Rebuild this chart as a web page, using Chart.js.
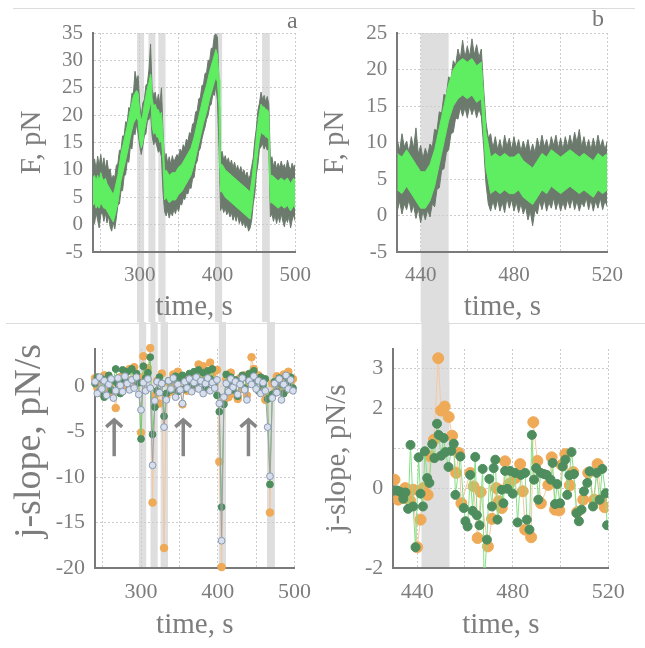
<!DOCTYPE html>
<html>
<head>
<meta charset="utf-8">
<script src="https://cdn.jsdelivr.net/npm/chart.js@4.4.1/dist/chart.umd.min.js"></script>
<style>
  body { margin: 0; background: #fff; width: 645px; height: 648px; overflow: hidden; position: relative; font-family: "Liberation Serif", serif; }
  canvas { position: absolute; }
  .rule { position: absolute; height: 1px; background: #dcdcdc; }
  .tag { position: absolute; color: #777; font-size: 24px; line-height: 24px; }
  .ytitle { position: absolute; width: 240px; height: 40px; line-height: 40px; text-align: center; color: #7d7d7d; font-size: 38px; transform: rotate(-90deg); white-space: nowrap; }
</style>
</head>
<body>
<div class="rule" style="left:13px;top:8px;width:622px"></div>
<div class="rule" style="left:6px;top:323px;width:639px"></div>
<canvas id="cA" width="322" height="322" style="left:0;top:0"></canvas>
<canvas id="cB" width="327" height="322" style="left:318px;top:0"></canvas>
<canvas id="cC" width="322" height="326" style="left:0;top:322px"></canvas>
<canvas id="cD" width="327" height="326" style="left:318px;top:322px"></canvas>
<div class="tag" style="left:287px;top:8px">a</div>
<div class="tag" style="left:592px;top:6px">b</div>
<div class="ytitle" style="left:-93px;top:421px">j-slope, pN/s</div>
<script>
// ==============================
// DATA - panel a (force, 240-500 s)
// raw trace envelope every 2 s, filtered band coarser
// ==============================
const tA = [240,242,244,246,248,250,252,254,256,258,260,262,264,266,268,270,272,274,276,278,280,282,284,286,288,290,292,294,296,298,300,302,304,306,308,310,312,314,316,318,320,322,324,326,328,330,332,334,336,338,340,342,344,346,348,350,352,354,356,358,360,362,364,366,368,370,372,374,376,378,380,382,384,386,388,390,392,394,396,398,400,402,404,406,408,410,412,414,416,418,420,422,424,426,428,430,432,434,436,438,440,442,444,446,448,450,452,454,456,458,460,462,464,466,468,470,472,474,476,478,480,482,484,486,488,490,492,494,496,498,500];
const rawHiA = [10.5,12,10,12.5,10.8,12.8,10.6,12.2,10.2,11.8,9.8,10.2,8.2,9,8.6,10.8,11.2,13.6,13.6,16.2,16.2,18.8,18.6,21.4,21.2,24,24,28,26.4,27.2,22,19.6,22.2,22.8,25.4,25.8,28.4,33,24.6,23.6,24.2,22.2,23.8,22,25,17,11.6,13,11.2,12.4,11,12.6,11.4,12.2,12.8,12.4,13.8,13.2,14.6,14,15.6,15.2,16.8,16.6,18.4,18.6,20.6,20.8,23,23.2,25.4,25.6,27.6,27.8,30,30,32.2,32.2,34.6,34.8,34.2,26,12.6,13.4,11.8,12.6,11.4,12.2,10.8,11.8,10.4,11.4,10,10.8,9.6,10.6,9.4,10,8.8,9.6,8.4,9,10.6,12.2,15.4,17.6,20.8,22.2,24.2,22.8,23.6,22.4,23.4,22,11.8,12.4,10.6,11.6,10.2,11.2,10.4,11.6,10.4,11,10,11.8,10.6,10,11.2,10.4,11];
const rawLoA = [1.8,0.2,2.2,0.8,-0.6,1.8,2.3,0.6,2.1,0.3,1.6,-0.4,-1.2,0.4,-0.8,1.2,3.6,3.8,6.2,6.2,8.8,9.2,11.6,11.4,14.2,13.8,16.8,16.4,18.4,16.6,14.4,12.8,14.4,16.2,16.6,19,19.2,20.4,16.2,14.6,15.4,14.4,13.2,13.6,12.4,6,2.4,1.6,2.6,1.2,2.4,1.6,2.8,2,3.2,2.4,3.8,3.6,4.8,4.6,5.8,5.6,6.8,6.6,8.4,8.6,11,11.6,13.4,14,15.6,16.8,17.8,19.2,20,21.6,22,23.8,23.6,25.4,22.6,14,2.6,3.4,2.2,3,1.8,2.6,1.4,2.2,0.8,1.8,0.6,1.8,0.2,1,-0.2,0.6,-0.6,0.2,-1.2,-0.6,0.8,3.8,5.6,9.2,11,13.8,14.2,14.8,13.8,14.6,13.6,14.2,1.4,2,0.6,1.8,0.2,1.6,0.4,2,0.6,-0.4,1.2,0.4,1.6,-0.6,0.8,1.8,0.6];
const tAf = [240,242,244,246,248,250,252,254,256,258,260,262,264,266,268,272,276,280,284,288,292,294,296,298,300,302,304,306,308,310,312,314,315,316,318,320,322,324,326,328,330,332,334,338,342,346,350,354,358,362,366,370,374,378,382,386,390,394,396,398,400,402,403,404,406,410,414,418,422,426,430,434,438,442,444,446,448,450,452,454,456,458,460,462,464,466,467,468,470,474,478,482,486,490,494,498,500];
const filtHiA = [8.5,9,8,9,8,9.5,8.5,8,8.5,7.5,7,6.5,6,5.5,6.5,9,13,15.5,18,21,23.5,24,24.5,24,20.5,19,20,22,23.5,25,26,27.5,26.5,23,21.5,22,21,21,20,20.5,16.5,9.5,10,9,9.5,9.5,10.5,11,12,13,14,16,18.5,21,23.5,25.5,28,30,31,32,31,26.5,15.5,11,11,10,9.5,9,8.5,8,7.5,7,6.5,6,8,10.5,13,16,18.5,20.5,22,21.5,21.5,21,21,20.5,13.5,9,9,8.5,8,8.5,8,8.5,7.5,8.5,8];
const filtLoA = [3.5,4,3,3.5,3,4,3.5,3,3,2.5,2,1.5,1,0.5,1.5,4,8,10.5,13,16,18.5,19,19.5,19,15.5,14,15,17,18.5,20,21,22.5,21.5,18,16.5,17,16,16,15,15.5,11.5,4.5,5,4,4.5,4.5,5.5,6,7,8,9,11,13.5,16,18.5,20.5,23,25,26,27,26,21.5,10.5,6,6,5,4.5,4,3.5,3,2.5,2,1.5,1,3,5.5,8,11,13.5,15.5,17,16.5,16.5,16,16,15.5,8.5,4,4,3.5,3,3.5,3,3.5,2.5,3.5,3];
const bandsA = [[296.6,305.7],[311.2,320.2],[324,333.2],[396.9,406],[457.4,467.3]];

// ==============================
// DATA - panel b (force, 430-520 s)
// ==============================
const tB = [430,431,432,433,434,435,436,437,438,439,440,441,442,443,444,445,446,447,448,449,450,451,452,453,454,455,456,457,458,459,460,461,462,463,464,465,466,467,468,469,470,471,472,473,474,475,476,477,478,479,480,481,482,483,484,485,486,487,488,489,490,491,492,493,494,495,496,497,498,499,500,501,502,503,504,505,506,507,508,509,510,511,512,513,514,515,516,517,518,519,520];
const rawHiB = [10.4,8.8,11.2,9.4,10.2,8.6,10.8,9.2,12,8.4,9.6,7.8,9.2,8.2,9.8,9.4,11.8,11.6,14.2,14,16.6,16.4,19,18.6,21.2,20.6,22.8,21.4,24,21.6,23.2,21.8,24.2,22,23.4,21.6,22.8,17.4,12.8,10.6,11.2,9.2,10.8,9,10.4,8.8,11,9.4,10.6,9,10.8,9.2,10.4,8.8,10.2,9,10.4,8.6,9.8,8.6,10.6,9.2,11,9.4,10.4,9,10.8,9.6,11,9.2,10.6,9,10.8,9.4,11,9.6,11.4,10,11.8,9.4,10.8,9.2,10.4,9,10.6,9.2,11,9.4,10.4,9,10.2];
const rawLoB = [0.6,2,0.2,1.6,0.8,2.2,0.4,1.4,-0.4,1,-1,0.6,-0.6,0.8,-0.2,1.6,1.2,3.6,3.8,6.2,6.4,8.6,9,11.2,11.4,13.4,13.2,14.8,13.6,14.8,13.4,15,13.8,14.8,13.4,14.6,13.6,9.6,4.4,1.6,0.6,2,0.8,2.2,0.6,1.8,0.4,2.4,1,2.2,0.6,1.8,0.4,1.6,0.2,1.2,-0.6,0.6,-1.4,0.8,0.2,2,0.8,2.2,0.6,1.8,1,2.4,0.8,2,0.6,1.8,0.8,2.2,1,2.4,0.8,2,0.6,1.8,1.2,2.4,0.8,2.2,0.6,2,1,2.4,0.8,2,1.2];
const tBf = [430,432,434,436,438,440,442,444,446,448,450,452,454,456,458,460,462,464,466,468,470,472,474,476,478,480,482,484,486,488,490,492,494,496,498,500,502,504,506,508,510,512,514,516,518,520];
const filtHiB = [8.5,8,9,8,7,6,6,7,9,12,15,18,20,21,21.5,21,21.5,20.5,21,11.5,8,8.5,8,8.5,8,8,8.5,7.5,7,6.5,7.5,8.5,8,9,8.5,8,8.5,9,8.5,8,8.5,8,7.5,8.5,8,8.5];
const filtLoB = [3.5,3,4,3,2,1,1,2,4,7,10,13,15,16,16.5,16,16.5,15.5,16,6.5,3,3.5,3,3.5,3,3,3.5,2.5,2,1.5,2.5,3.5,3,4,3.5,3,3.5,4,3.5,3,3.5,3,2.5,3.5,3,3.5];
const bandsB = [[440,452]];

// ==============================
// DATA - panel c (j-slope, three estimates)
// ==============================
const tC = [240,243,246,249,252,255,258,261,264,267,270,273,276,279,282,285,288,291,294,297,300,303,306,309,312,315,318,321,324,327,330,333,336,339,342,345,348,351,354,357,360,363,366,369,372,375,378,381,384,387,390,393,396,399,402,405,408,411,414,417,420,423,426,429,432,435,438,441,444,447,450,453,456,459,462,465,468,471,474,477,480,483,486,489,492,495,498];
const blueC = [0.5,-0.8,1.0,-0.3,0.6,-1.0,0.2,0.8,-1.3,-0.5, 0.9,0.1,-0.6,1.1,0.3,-0.4,0.7,-0.2,1.0,-0.9, -2.6,0.4,-0.5,0.8,-0.2,-8.7,-1.6,0.5,-0.7,0.3, -4.5,-1.5,0.6,-0.3,0.9,-1.2,0.2,-0.4,-1.9,0.5, -0.2,0.8,-0.6,0.4,1.0,-0.3,0.6,-0.8,0.3,0.9, -0.5,0.4,-0.2,0.7,-1.9,-17.0,-1.2,0.3,-0.6,0.8, -0.1,0.5,-0.9,0.2,0.9,-0.4,-1.5,0.6,0.2,1.1, -0.3,0.6,-0.8,0.4,-0.5,-4.5,-9.9,-1.3,0.3,-0.7, 0.8,-1.5,0.2,1.2,-0.3,0.7,-0.5];
const greenC = [0.3,1.0,-0.6,0.8,-1.2,0.4,1.2,-0.4,0.6,1.9, 0.2,-0.8,1.8,0.5,1.6,-0.3,1.9,0.7,1.4,0.4, -5.8,2.2,0.9,1.5,3.2,-5.3,-2.3,-0.5,1.0,0.3, -3.3,-0.8,0.6,-0.4,0.8,1.1,-0.6,0.9,1.2,-0.3, 0.5,1.4,0.1,1.6,0.4,1.8,0.6,1.5,-0.2,1.7, 0.8,1.9,0.5,-1.0,-2.8,-13.3,-2.0,1.3,0.2,1.0, -0.4,0.7,-1.1,0.4,1.2,-0.2,0.9,1.4,0.3,1.7, 0.6,-0.5,1.0,0.2,0.8,-1.4,-10.8,-0.9,0.5,-0.6, 0.9,0.2,-0.8,1.1,0.4,1.0,-0.2];
const orangeC = [0.9,-0.2,0.6,-0.8,1.2,0.8,-0.5,0.3,-0.9,-2.4, 0.5,1.0,-0.4,1.5,0.2,1.9,0.7,2.1,0.3,1.0, -5.1,3.3,1.2,2.0,4.2,-12.8,-1.0,0.6,-1.9,1.4, -17.8,-1.2,0.4,-0.6,1.3,0.1,1.6,-0.3,-2.0,0.9, -0.5,0.6,1.0,-0.2,0.7,2.4,1.3,2.2,0.5,1.1, 2.6,1.4,0.2,1.8,-8.3,-19.9,-1.6,0.8,-1.2,1.5, -0.8,0.4,-1.4,0.9,-0.3,1.2,-1.0,0.5,3.2,1.9, 0.7,1.2,-0.4,0.8,-1.5,-1.2,-13.9,0.3,-0.7,1.1, -0.2,0.6,1.3,-0.4,1.6,0.2,0.8];
const bandsC = [[297.2,306.7],[312.3,321.7],[325.5,335.1],[401.3,410.7],[464.1,474.5]];
const arrowT = [265, 355, 440];
const arrowFrom = -7.7, arrowTo = -3.7;

// ==============================
// DATA - panel d (j-slope, 430-520 s)
// ==============================
const tOrD = [430.5,432,435,437,438.3,440,441.4,442.6,444.4,445.6,447,448.8,450,451.5,453.2,454.6,456.3,457.4,458.5,462.2,463.6,465.3,466.6,469.6,471.3,473.1,474.2,475.4,476.8,478.5,481,483.1,484.2,485.2,487.7,488.6,490.3,491.8,494.9,496.3,497.7,499.5,500.5,502,503.9,505.3,507,509.5,511.6,514.1,515.5,517,518.5];
const vOrD = [0.21,-0.29,0.0,-0.31,-0.04,-1.48,-0.79,0.0,-0.17,0.79,1.21,3.25,1.94,2.04,1.78,1.31,0.38,0.88,-0.38,0.38,0.04,-1.25,-0.1,-1.46,-0.77,0.0,-0.33,-0.5,0.67,0.1,0.25,0.6,-0.08,-1.04,-1.23,1.65,0.68,-0.38,0.08,0.77,-0.54,-0.56,0.58,0.85,0.07,0.4,-0.6,-0.29,0.38,-0.29,0.6,-0.3,-0.48];
const tGrD = [430.6,431.7,433,434.2,435.1,436.2,437.2,438.3,439.3,440.6,441.4,442.4,443.2,444.2,445.1,446.3,447.2,448.3,449,450,451.1,451.8,453.1,454.3,455.3,456,458.1,459.5,460.2,461.1,462.2,463.2,464.3,465,466.1,467.4,468,469.2,470.2,471.3,472,472.7,473.6,475.4,476.1,476.8,477.8,478.9,480,481,482,483.4,485.2,485.9,487,488,488.9,489.8,490.7,491.7,493.1,494.2,495.9,496.7,497.7,498.6,499.8,500.9,502,502.8,503.7,504.6,505.6,506.7,507.7,508.8,509.8,511.2,512.2,513.6,515.1,516.4,517.5,518.9,519.5];
const vGrD = [-0.06,-0.06,-0.1,-0.27,-0.11,-0.52,1.08,-0.46,-1.48,0.77,-0.14,-0.46,0.92,0.25,0.13,1.1,0.75,1.61,1.33,0.81,1.25,0.9,0.53,0.93,1.11,-0.17,0.79,-0.5,-0.83,-0.96,0.33,-0.57,0.78,-0.68,-0.93,0.48,-2.4,-1.29,0.23,-0.46,0.5,0.71,-0.79,-0.04,-0.38,0.43,-0.02,0.43,-0.14,0.38,-0.86,0.33,0.38,-0.79,-1.04,1.33,0.21,0.5,-0.29,0.38,0.35,0.33,0.21,0.63,-0.4,0.1,-0.38,0.54,0.71,-0.17,0.32,0.9,0.35,-0.63,-0.83,-0.54,-0.08,0.13,0.42,-0.46,0.38,-0.29,0.48,-0.13,-0.93];
const bandsD = [[441.8,453.5]];

// ==============================
// TICKS
// ==============================
const xTicksA = [250,300,350,400,450,500], xLabA = [300,400,500];
const yTicksA = [-5,0,5,10,15,20,25,30,35];
const xTicksB = [440,460,480,500,520], xLabB = [440,480,520];
const yTicksB = [-5,0,5,10,15,20,25];
const yTicksC = [-20,-15,-10,-5,0];
const yTicksD = [-2,0,1,2,3], yLabD = [-2,0,2,3];

// ==============================
// STYLE
// ==============================
const SERIF = '"Liberation Serif", "Times New Roman", serif';
const TXT = '#7d7d7d';
const GRID = '#cccccc';
const AXIS = '#7a7a7a';
const RAW = '#6c7a6d';
const FILT = '#5fee61';
const SHADE = '#dedede';

const xy = (ts, vs) => ts.map((t, i) => ({ x: t, y: vs[i] }));

// gray shading that runs through both rows
const shade = {
  id: 'shade',
  beforeDraw(chart, args, opts) {
    const { ctx, chartArea, scales: { x } } = chart;
    const y0 = opts.up ? 0 : chartArea.top;
    const y1 = opts.up ? chartArea.bottom : chart.height;
    ctx.save();
    ctx.fillStyle = SHADE;
    opts.bands.forEach(([a, b]) => {
      const p0 = x.getPixelForValue(a), p1 = x.getPixelForValue(b);
      ctx.fillRect(p0, y0, p1 - p0, y1 - y0);
    });
    ctx.restore();
  }
};

// upward arrows in panel c
const arrows = {
  id: 'arrows',
  afterDatasetsDraw(chart, args, opts) {
    if (!opts.at) return;
    const { ctx, scales: { x, y } } = chart;
    ctx.save();
    ctx.strokeStyle = '#868686';
    ctx.lineWidth = 3.5;
    opts.at.forEach(t => {
      const px = x.getPixelForValue(t);
      const yb = y.getPixelForValue(opts.from), yt = y.getPixelForValue(opts.to);
      ctx.beginPath(); ctx.moveTo(px, yb); ctx.lineTo(px, yt + 1); ctx.stroke();
      ctx.beginPath(); ctx.moveTo(px - 8, yt + 7); ctx.lineTo(px, yt); ctx.lineTo(px + 8, yt + 7); ctx.stroke();
    });
    ctx.restore();
  }
};

function axes(o) {
  return {
    x: {
      type: 'linear', min: o.xMin, max: o.xMax,
      afterFit: s => { s.height = o.xH; },
      afterBuildTicks: s => { s.ticks = o.xTicks.map(v => ({ value: v })); },
      ticks: { callback: v => o.xLab.includes(v) ? String(v) : '', color: TXT, font: { family: SERIF, size: o.tick }, padding: 11, maxRotation: 0, autoSkip: false },
      grid: { color: GRID, drawTicks: false },
      border: { color: AXIS, width: 2, dash: [2, 2] },
      title: { display: true, text: 'time, s', color: TXT, font: { family: SERIF, size: 29, lineHeight: 1 }, padding: { top: 0, bottom: o.xTitlePad } }
    },
    y: {
      type: 'linear', min: o.yMin, max: o.yMax,
      afterFit: s => { s.width = o.yW; },
      afterBuildTicks: s => { s.ticks = o.yTicks.map(v => ({ value: v })); },
      ticks: { callback: v => (o.yLab || o.yTicks).includes(v) ? String(v) : '', color: TXT, font: { family: SERIF, size: o.tick }, padding: 10, autoSkip: false },
      grid: { color: GRID, drawTicks: false },
      border: { color: AXIS, width: 2, dash: [2, 2] },
      title: { display: !!o.yTitle, text: o.yTitle || '', color: TXT, font: { family: SERIF, size: 29, lineHeight: 1 }, padding: { top: o.yTitlePad || 0, bottom: 0 } }
    }
  };
}

function base(o, bands, up, extra) {
  return {
    responsive: false, animation: false, events: [],
    layout: { padding: { top: o.top, right: o.right, left: 0, bottom: 0 } },
    scales: axes(o),
    plugins: Object.assign({ legend: { display: false }, tooltip: { enabled: false }, shade: { bands, up } }, extra || {})
  };
}

function traceSets(t, hi, lo, tf, fHi, fLo) {
  const line = { pointRadius: 0, borderWidth: 1, tension: 0 };
  return [
    Object.assign({ data: xy(tf, fHi), borderColor: FILT, backgroundColor: FILT, fill: '+1', order: 0 }, line),
    Object.assign({ data: xy(tf, fLo), borderColor: FILT, fill: false, order: 0 }, line),
    Object.assign({ data: xy(t, hi), borderColor: RAW, backgroundColor: RAW, fill: '+1', order: 1 }, line),
    Object.assign({ data: xy(t, lo), borderColor: RAW, fill: false, order: 1 }, line)
  ];
}

// ==============================
// PANEL a
// ==============================
new Chart(document.getElementById('cA'), {
  type: 'line',
  data: { datasets: traceSets(tA, rawHiA, rawLoA, tAf, filtHiA, filtLoA) },
  options: base({ xMin: 240, xMax: 500, yMin: -5, yMax: 35, xTicks: xTicksA, xLab: xLabA, yTicks: yTicksA,
    yTitle: 'F, pN', tick: 21, top: 33, right: 19, xH: 70, yW: 93, xTitlePad: 0, yTitlePad: 17.5 }, bandsA, false),
  plugins: [shade]
});

// ==============================
// PANEL b
// ==============================
new Chart(document.getElementById('cB'), {
  type: 'line',
  data: { datasets: traceSets(tB, rawHiB, rawLoB, tBf, filtHiB, filtLoB) },
  options: base({ xMin: 430, xMax: 520, yMin: -5, yMax: 25, xTicks: xTicksB, xLab: xLabB, yTicks: yTicksB,
    yTitle: 'F, pN', tick: 21, top: 33, right: 37.7, xH: 70, yW: 79.3, xTitlePad: 0, yTitlePad: 2.5 }, bandsB, false),
  plugins: [shade]
});

// ==============================
// PANEL c  (its y title is the larger html label)
// ==============================
new Chart(document.getElementById('cC'), {
  type: 'scatter',
  data: {
    datasets: [
      { data: xy(tC, blueC), showLine: true, borderWidth: 1, borderColor: '#9aa2ac', pointRadius: 3.4, pointBackgroundColor: '#d6dfeb', pointBorderColor: '#8a9ab2', pointBorderWidth: 1, clip: false },
      { data: xy(tC, greenC), showLine: true, borderWidth: 1, borderColor: '#72cc72', pointRadius: 3.4, pointBackgroundColor: '#4e8d5d', pointBorderColor: '#4e8d5d', clip: false },
      { data: xy(tC, orangeC), showLine: true, borderWidth: 1, borderColor: '#f2c8a2', pointRadius: 3.8, pointBackgroundColor: '#efaa58', pointBorderColor: '#efaa58', clip: false }
    ]
  },
  options: base({ xMin: 240, xMax: 500, yMin: -20, yMax: 4.1, xTicks: xTicksA, xLab: xLabA, yTicks: yTicksC,
    yTitle: '', tick: 22, top: 27, right: 25, xH: 80, yW: 95, xTitlePad: 8.5 }, bandsC, true,
    { arrows: { at: arrowT, from: arrowFrom, to: arrowTo } }),
  plugins: [shade, arrows]
});

// ==============================
// PANEL d
// ==============================
new Chart(document.getElementById('cD'), {
  type: 'scatter',
  data: {
    datasets: [
      { data: xy(tGrD, vGrD), showLine: true, borderWidth: 1, borderColor: '#86e086', pointRadius: 4.5, pointBackgroundColor: '#4e8d5d', pointBorderColor: '#4e8d5d' },
      { data: xy(tOrD, vOrD), showLine: true, borderWidth: 1, borderColor: '#f4c9a4', pointRadius: 5.5, pointBackgroundColor: '#efaa58', pointBorderColor: '#efaa58' }
    ]
  },
  options: base({ xMin: 430, xMax: 520, yMin: -2, yMax: 3.48, xTicks: xTicksB, xLab: xLabB, yTicks: yTicksD, yLab: yLabD,
    yTitle: 'j-slope, pN/s', tick: 22, top: 27, right: 36.7, xH: 80, yW: 75.3, xTitlePad: 8.5, yTitlePad: 4.5 }, bandsD, true),
  plugins: [shade]
});
</script>
</body>
</html>
